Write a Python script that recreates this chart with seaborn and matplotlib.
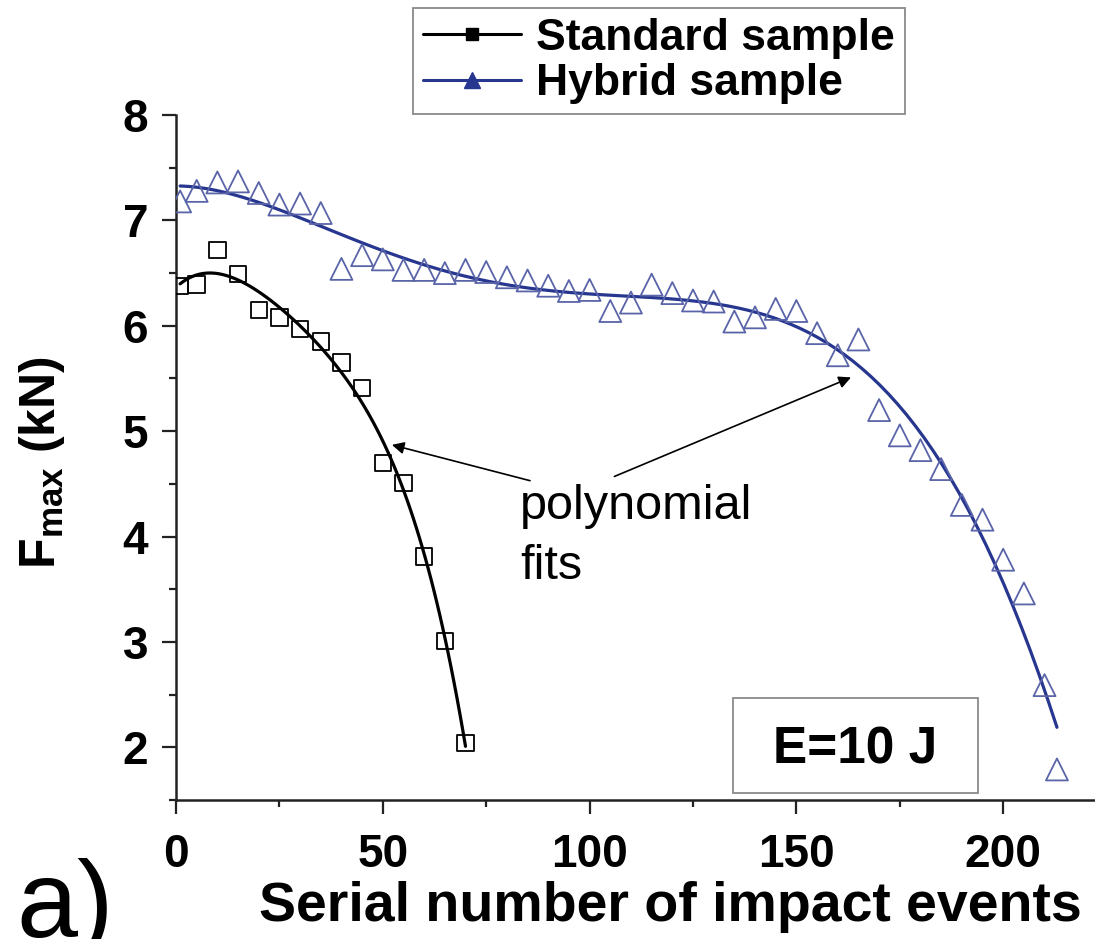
import numpy as np
import pandas as pd
import seaborn as sns
import matplotlib.pyplot as plt
from matplotlib.lines import Line2D
from matplotlib.patches import Rectangle
from matplotlib.ticker import MultipleLocator

# ---- data ----
std_x = [1, 5, 10, 15, 20, 25, 30, 35, 40, 45, 50, 55, 60, 65, 70]
std_y = [6.38, 6.39, 6.72, 6.49, 6.15, 6.08, 5.97, 5.85, 5.65, 5.41, 4.70, 4.51, 3.81, 3.01, 2.04]

hyb_x = [1, 5, 10, 15, 20, 25, 30, 35, 40, 45, 50, 55, 60, 65, 70, 75, 80, 85, 90, 95,
         100, 105, 110, 115, 120, 125, 130, 135, 140, 145, 150, 155, 160, 165, 170, 175,
         180, 185, 190, 195, 200, 205, 210, 213]
hyb_y = [7.18, 7.28, 7.36, 7.37, 7.26, 7.15, 7.16, 7.07, 6.54, 6.67, 6.63, 6.53, 6.53, 6.50,
         6.53, 6.51, 6.46, 6.43, 6.38, 6.33, 6.34, 6.14, 6.22, 6.39, 6.31, 6.24, 6.23, 6.04,
         6.08, 6.16, 6.14, 5.93, 5.72, 5.87, 5.20, 4.96, 4.82, 4.64, 4.30, 4.16, 3.78, 3.46,
         2.59, 1.79]

series_labels = ["Standard sample", "Hybrid sample"]
x_ticks = [0, 50, 100, 150, 200]
y_ticks = [2, 3, 4, 5, 6, 7, 8]

std_df = pd.DataFrame({"x": std_x, "y": std_y})
hyb_df = pd.DataFrame({"x": hyb_x, "y": hyb_y})

BLUE_LINE = "#27368f"
BLUE_MARK = "#5a64a8"

sns.set_theme(style="ticks")
plt.rcParams['font.family'] = ['Liberation Sans', 'DejaVu Sans']
plt.rcParams['text.color'] = 'black'
plt.rcParams['axes.labelcolor'] = 'black'
plt.rcParams['xtick.color'] = 'black'
plt.rcParams['ytick.color'] = 'black'
plt.rcParams['mathtext.fontset'] = 'custom'
plt.rcParams['mathtext.rm'] = 'Liberation Sans:bold'
plt.rcParams['mathtext.it'] = 'Liberation Sans:bold'
plt.rcParams['mathtext.bf'] = 'Liberation Sans:bold'
plt.rcParams['mathtext.default'] = 'rm'

fig = plt.figure(figsize=(10.95, 9.39), dpi=100)
ax = fig.add_axes([176 / 1095, (939 - 800) / 939, 1 - 176 / 1095, (800 - 115) / 939])

# polynomial fits
sns.regplot(data=std_df, x="x", y="y", order=4, ci=None, scatter=False, ax=ax,
            line_kws=dict(color="black", lw=2.3))
sns.regplot(data=hyb_df, x="x", y="y", order=5, ci=None, scatter=False, ax=ax,
            line_kws=dict(color=BLUE_LINE, lw=2.3))

# data points
sns.scatterplot(data=std_df, x="x", y="y", marker="s", s=140, facecolor="none",
                edgecolor="black", linewidth=1.3, ax=ax, zorder=3)
sns.scatterplot(data=hyb_df, x="x", y="y", marker="^", s=250, facecolor="none",
                edgecolor=BLUE_MARK, linewidth=1.3, ax=ax, zorder=3)

ax.set_xlim(0, 222.2)
ax.set_ylim(1.5, 8)
ax.set_xticks(x_ticks)
ax.set_yticks(y_ticks)
ax.xaxis.set_minor_locator(MultipleLocator(25))
ax.yaxis.set_minor_locator(MultipleLocator(0.5))
for s in ["top", "right"]:
    ax.spines[s].set_visible(False)
for s in ["left", "bottom"]:
    ax.spines[s].set_linewidth(1.8)
    ax.spines[s].set_color("#222222")
ax.tick_params(axis="both", which="major", direction="out", length=10, width=1.6,
               labelsize=33, color="#222222")
ax.tick_params(axis="x", which="major", pad=14)
ax.tick_params(axis="y", which="major", pad=10)
ax.tick_params(axis="both", which="minor", direction="out", length=5, width=1.6,
               color="#222222")
for lab in ax.get_xticklabels() + ax.get_yticklabels():
    lab.set_fontweight("bold")

ax.set_xlabel("Serial number of impact events", fontsize=40, fontweight="bold")
ax.xaxis.set_label_coords((670 - 176) / 919, -(907 - 800) / 685)
ax.xaxis.label.set_verticalalignment("center")
ax.set_ylabel("F$_{max}$ (kN)", fontsize=36, fontweight="bold")
ax.yaxis.set_label_coords(-(176 - 42) / 919, (800 - 463) / 685)
ax.yaxis.label.set_verticalalignment("center")

# annotations
ax.text(83.2, 4.17, "polynomial", fontsize=35, ha="left", va="baseline")
ax.text(83.2, 3.60, "fits", fontsize=35, ha="left", va="baseline")
arrow = dict(arrowstyle="-|>", color="black", lw=1.2, mutation_scale=18, shrinkA=0, shrinkB=0)
ax.annotate("", xy=(52.2, 4.87), xytext=(85.6, 4.53), arrowprops=arrow)
ax.annotate("", xy=(163.2, 5.51), xytext=(106.0, 4.57), arrowprops=arrow)

ax.add_patch(Rectangle((134.7, 1.57), 59.3, 0.90, fill=False, edgecolor="#8a8a8a", lw=1.3,
                       zorder=4))
ax.text(164.3, 1.846, "E=10 J", fontsize=37, fontweight="bold", ha="center", va="baseline")

# legend
handles = [
    Line2D([], [], color="black", lw=2.2, marker="s", markersize=9,
           markerfacecolor="black", markeredgecolor="black"),
    Line2D([], [], color=BLUE_LINE, lw=2.2, marker="^", markersize=11,
           markerfacecolor=BLUE_LINE, markeredgecolor=BLUE_LINE),
]
leg = fig.legend(handles, series_labels, loc="upper left",
                 bbox_to_anchor=(413 / 1095, 1 - 8 / 939), borderaxespad=0,
                 prop=dict(size=32, weight="bold"), frameon=True, fancybox=False,
                 edgecolor="#8a8a8a", framealpha=1, handlelength=2.2,
                 handletextpad=0.35, labelspacing=0.1, borderpad=0.22)
leg.get_frame().set_linewidth(1.3)

fig.text(16 / 1095, 2 / 939, "a)", fontsize=79, ha="left", va="baseline")

fig.savefig("out.png", dpi=100)
